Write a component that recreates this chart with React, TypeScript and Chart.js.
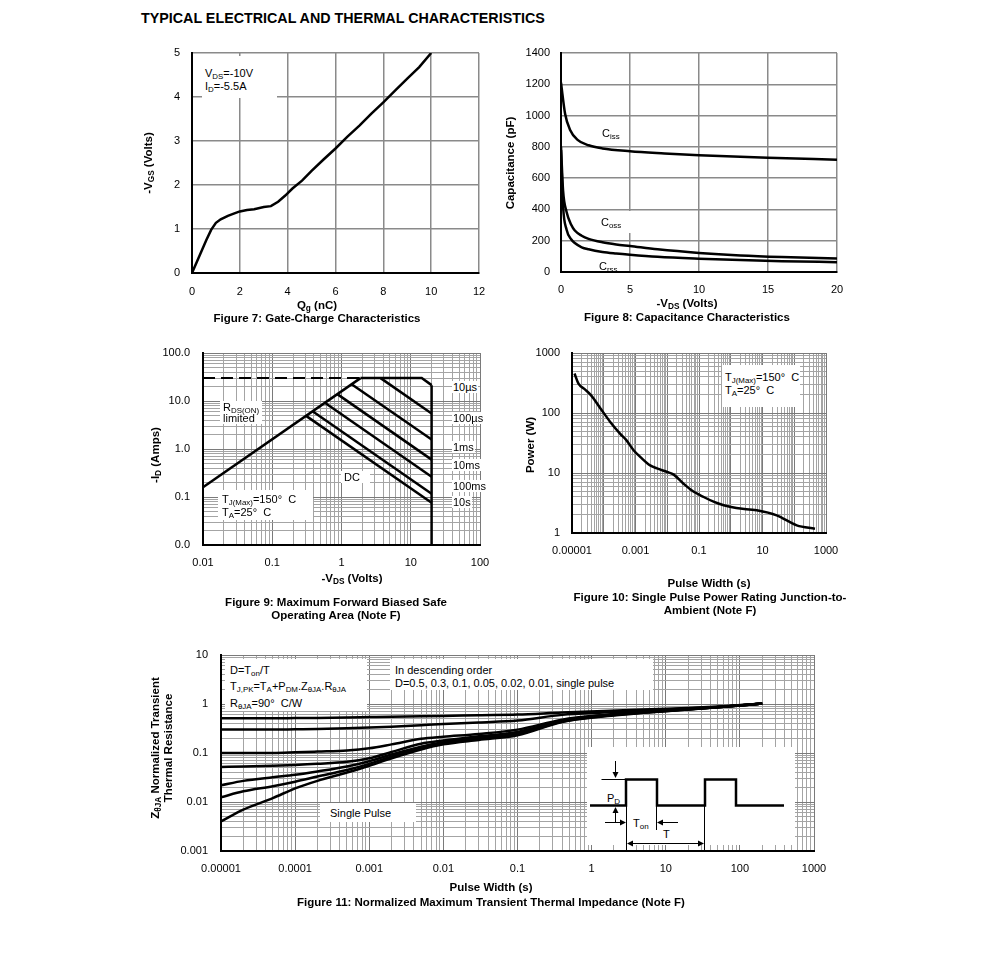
import React, { useEffect, useRef } from 'react';
import { Chart, registerables } from 'chart.js';

Chart.register(...registerables);

const FONT = '"Liberation Sans", Arial, Helvetica, sans-serif';

// ---------------- Figure 7: Gate charge ----------------
const fig7Charge = [0, 0.2, 0.4, 0.6, 0.8, 1.0, 1.2, 1.5, 1.8, 2.0, 2.3, 2.6, 3.0, 3.3, 3.6, 3.9, 4.2, 4.6, 5.0, 5.5, 6.0, 6.5, 7.0, 7.5, 8.0, 8.5, 9.0, 9.5, 10.0];
const fig7Vgs = [0, 0.25, 0.5, 0.75, 0.98, 1.14, 1.22, 1.3, 1.36, 1.4, 1.43, 1.45, 1.5, 1.52, 1.62, 1.76, 1.92, 2.1, 2.32, 2.58, 2.83, 3.1, 3.35, 3.62, 3.88, 4.15, 4.42, 4.68, 5.0];
const fig7XTicks = [0, 2, 4, 6, 8, 10, 12];
const fig7XLabels = ['0', '2', '4', '6', '8', '10', '12'];
const fig7YTicks = [0, 1, 2, 3, 4, 5];
const fig7YLabels = ['0', '1', '2', '3', '4', '5'];

// ---------------- Figure 8: Capacitance ----------------
const fig8CissV = [0, 0.3, 0.65, 1.2, 2, 3, 5, 7.5, 10, 15, 20];
const fig8Ciss = [1210, 1010, 910, 845, 810, 790, 772, 758, 746, 730, 718];
const fig8CossV = [0, 0.15, 0.4, 0.75, 1, 1.5, 2, 3, 4, 5, 7, 10, 13, 16, 20];
const fig8Coss = [800, 520, 385, 300, 265, 232, 212, 190, 176, 166, 145, 122, 106, 96, 87];
const fig8CrssV = [0, 0.15, 0.4, 0.75, 1, 1.5, 2, 3, 4, 5, 7, 10, 13, 16, 20];
const fig8Crss = [780, 420, 272, 208, 185, 158, 145, 128, 118, 110, 97, 85, 76, 69, 63];
const fig8XTicks = [0, 5, 10, 15, 20];
const fig8XLabels = ['0', '5', '10', '15', '20'];
const fig8YTicks = [0, 200, 400, 600, 800, 1000, 1200, 1400];
const fig8YLabels = ['0', '200', '400', '600', '800', '1000', '1200', '1400'];

// ---------------- Figure 9: Safe operating area ----------------
const fig9RdsV = [0.01, 1.88];
const fig9RdsI = [0.16, 30];
const fig9LimitV = [0.01, 1.88];
const fig9LimitI = [30, 30];
const fig9Us10V = [1.88, 14.4, 20];
const fig9Us10I = [30, 30, 21.4];
const fig9VmaxV = [20, 20];
const fig9VmaxI = [21.4, 0.01];
const fig9Us100V = [3.67, 20];
const fig9Us100I = [30, 5.5];
const fig9Ms1V = [1.4, 20];
const fig9Ms1I = [22.4, 1.58];
const fig9Ms10V = [0.87, 20];
const fig9Ms10I = [13.9, 0.6];
const fig9Ms100V = [0.575, 20];
const fig9Ms100I = [9.2, 0.265];
const fig9S10V = [0.382, 20];
const fig9S10I = [6.1, 0.117];
const fig9DcV = [0.308, 20];
const fig9DcI = [4.9, 0.076];
const fig9XDecades = [0.01, 0.1, 1, 10, 100];
const fig9XLabels = ['0.01', '0.1', '1', '10', '100'];
const fig9YDecades = [0.01, 0.1, 1, 10, 100];
const fig9YLabels = ['0.0', '0.1', '1.0', '10.0', '100.0'];

// ---------------- Figure 10: Single pulse power ----------------
const fig10T = [1.2e-5, 1.6e-5, 2.5e-5, 4e-5, 8e-5, 1.6e-4, 3.3e-4, 5e-4, 8.7e-4, 1.5e-3, 2.9e-3, 5e-3, 1e-2, 1.6e-2, 3.2e-2, 6e-2, 0.14, 0.3, 0.6, 1.5, 6.6, 28, 120, 450];
const fig10P = [454, 309, 250, 197, 118, 71, 45, 36, 24, 18, 13.4, 11.8, 10.4, 9.4, 6.7, 5.1, 3.98, 3.3, 2.9, 2.6, 2.39, 1.97, 1.34, 1.18];
const fig10XDecades = [1e-5, 1e-4, 1e-3, 1e-2, 1e-1, 1, 10, 100, 1000];
const fig10XLabels = ['0.00001', '', '0.001', '', '0.1', '', '10', '', '1000'];
const fig10YDecades = [1, 10, 100, 1000];
const fig10YLabels = ['1', '10', '100', '1000'];

// ---------------- Figure 11: Transient thermal impedance ----------------
const fig11T = [1e-5, 2e-5, 5e-5, 1e-4, 2e-4, 5e-4, 1e-3, 2e-3, 5e-3, 1e-2, 3e-2, 0.1, 0.4, 1.5, 5, 20, 60, 200];
const fig11D05 = [0.51, 0.51, 0.51, 0.515, 0.52, 0.53, 0.54, 0.55, 0.56, 0.57, 0.59, 0.61, 0.67, 0.72, 0.77, 0.83, 0.9, 1.02];
const fig11D03 = [0.3, 0.3, 0.3, 0.305, 0.31, 0.32, 0.33, 0.345, 0.37, 0.39, 0.42, 0.46, 0.6, 0.67, 0.73, 0.81, 0.89, 1.02];
const fig11D01 = [0.1, 0.1, 0.1, 0.103, 0.107, 0.113, 0.125, 0.15, 0.195, 0.215, 0.245, 0.3, 0.48, 0.6, 0.69, 0.79, 0.88, 1.02];
const fig11D005 = [0.052, 0.053, 0.055, 0.057, 0.06, 0.066, 0.078, 0.105, 0.155, 0.18, 0.22, 0.27, 0.46, 0.59, 0.68, 0.78, 0.88, 1.02];
const fig11D002 = [0.022, 0.027, 0.032, 0.036, 0.042, 0.053, 0.068, 0.093, 0.135, 0.165, 0.205, 0.25, 0.45, 0.58, 0.67, 0.78, 0.88, 1.02];
const fig11D001 = [0.0125, 0.0165, 0.021, 0.026, 0.033, 0.045, 0.06, 0.085, 0.125, 0.155, 0.195, 0.24, 0.44, 0.57, 0.67, 0.77, 0.88, 1.02];
const fig11Single = [0.004, 0.007, 0.012, 0.019, 0.027, 0.04, 0.055, 0.078, 0.118, 0.15, 0.185, 0.23, 0.43, 0.56, 0.66, 0.77, 0.88, 1.02];
const fig11XDecades = [1e-5, 1e-4, 1e-3, 1e-2, 1e-1, 1, 10, 100, 1000];
const fig11XLabels = ['0.00001', '0.0001', '0.001', '0.01', '0.1', '1', '10', '100', '1000'];
const fig11YDecades = [0.001, 0.01, 0.1, 1, 10];
const fig11YLabels = ['0.001', '0.01', '0.1', '1', '10'];

// ---------------- layout ----------------
type Geo = { L: number; T: number; R: number; B: number };
const YW = 60, PT = 24, PR = 30, XH = 30;
const G7: Geo = { L: 192, T: 53, R: 479, B: 273 };
const G8: Geo = { L: 561, T: 53, R: 837, B: 272 };
const G9: Geo = { L: 203, T: 353, R: 480, B: 545 };
const G10: Geo = { L: 572, T: 353, R: 826, B: 533 };
const G11: Geo = { L: 221, T: 655, R: 814, B: 851 };

function canvasBox(g: Geo) {
  return { left: g.L - YW, top: g.T - PT, width: YW + (g.R - g.L) + PR, height: PT + (g.B - g.T) + XH };
}

const isDecade = (v: number) => Math.abs(Math.log10(v) - Math.round(Math.log10(v))) < 1e-6;

function fitFn(isY: boolean) {
  return (s: any) => {
    if (isY) s.width = YW;
    else s.height = XH;
  };
}

function linAxis(vals: number[], labels: string[], pad: number, isY: boolean) {
  return {
    type: 'linear',
    min: vals[0],
    max: vals[vals.length - 1],
    afterBuildTicks: (s: any) => {
      s.ticks = vals.map((v) => ({ value: v }));
    },
    afterFit: fitFn(isY),
    ticks: {
      padding: pad,
      autoSkip: false,
      maxRotation: 0,
      minRotation: 0,
      color: '#000',
      font: { family: FONT, size: 11 },
      callback: (v: number) => {
        const i = vals.findIndex((t) => Math.abs(t - v) < 1e-9);
        return i >= 0 ? labels[i] : '';
      },
    },
    grid: { color: '#8a8a8a', lineWidth: 1.5, drawTicks: false },
    border: { display: true, color: '#000', width: 2 },
  };
}

function logAxis(decades: number[], labels: string[], pad: number, isY: boolean) {
  const all: number[] = [];
  for (let i = 0; i < decades.length - 1; i++) {
    for (let k = 1; k <= 9; k++) all.push(decades[i] * k);
  }
  all.push(decades[decades.length - 1]);
  return {
    type: 'logarithmic',
    min: decades[0],
    max: decades[decades.length - 1],
    afterBuildTicks: (s: any) => {
      s.ticks = all.map((v) => ({ value: v }));
    },
    afterFit: fitFn(isY),
    ticks: {
      padding: pad,
      autoSkip: false,
      maxRotation: 0,
      minRotation: 0,
      color: '#000',
      font: { family: FONT, size: 11 },
      callback: (v: number) => {
        const i = decades.findIndex((d) => Math.abs(d - v) / d < 1e-6);
        return i >= 0 ? labels[i] : '';
      },
    },
    grid: {
      color: (c: any) => (c.tick && isDecade(c.tick.value) ? '#7a7a7a' : '#a4a4a4'),
      lineWidth: 1,
      drawTicks: false,
    },
    border: { display: true, color: '#000', width: 2 },
  };
}

function line(xs: number[], ys: number[], extra: any = {}) {
  return {
    data: xs.map((x, i) => ({ x, y: ys[i] })),
    borderColor: '#000',
    borderWidth: 2.5,
    pointRadius: 0,
    fill: false,
    tension: 0,
    ...extra,
  };
}

function baseConfig(datasets: any[], x: any, y: any) {
  return {
    type: 'line',
    data: { datasets },
    options: {
      responsive: false,
      animation: false,
      devicePixelRatio: 1,
      events: [],
      layout: { padding: { left: 0, top: PT, right: PR, bottom: 0 } },
      plugins: { legend: { display: false }, tooltip: { enabled: false } },
      scales: { x, y },
    },
  };
}

const smooth = { cubicInterpolationMode: 'monotone' };

const fig7Config = () =>
  baseConfig([line(fig7Charge, fig7Vgs)], linAxis(fig7XTicks, fig7XLabels, 12, false), linAxis(fig7YTicks, fig7YLabels, 12, true));

const fig8Config = () =>
  baseConfig(
    [line(fig8CissV, fig8Ciss, smooth), line(fig8CossV, fig8Coss, smooth), line(fig8CrssV, fig8Crss, smooth)],
    linAxis(fig8XTicks, fig8XLabels, 11, false),
    linAxis(fig8YTicks, fig8YLabels, 11, true)
  );

const fig9Config = () =>
  baseConfig(
    [
      line(fig9LimitV, fig9LimitI, { borderDash: [12, 6], borderWidth: 2 }),
      line(fig9RdsV, fig9RdsI),
      line(fig9Us10V, fig9Us10I),
      line(fig9VmaxV, fig9VmaxI),
      line(fig9Us100V, fig9Us100I),
      line(fig9Ms1V, fig9Ms1I),
      line(fig9Ms10V, fig9Ms10I),
      line(fig9Ms100V, fig9Ms100I),
      line(fig9S10V, fig9S10I),
      line(fig9DcV, fig9DcI),
    ],
    logAxis(fig9XDecades, fig9XLabels, 11, false),
    logAxis(fig9YDecades, fig9YLabels, 13, true)
  );

const fig10Config = () =>
  baseConfig([line(fig10T, fig10P, smooth)], logAxis(fig10XDecades, fig10XLabels, 11, false), logAxis(fig10YDecades, fig10YLabels, 12, true));

const fig11Config = () =>
  baseConfig(
    [fig11D05, fig11D03, fig11D01, fig11D005, fig11D002, fig11D001, fig11Single].map((ys) => line(fig11T, ys, smooth)),
    logAxis(fig11XDecades, fig11XLabels, 11, false),
    logAxis(fig11YDecades, fig11YLabels, 13, true)
  );

function Plot({ g, config }: { g: Geo; config: () => any }) {
  const ref = useRef<HTMLCanvasElement>(null);
  useEffect(() => {
    const chart = new Chart(ref.current as HTMLCanvasElement, config() as any);
    return () => chart.destroy();
  }, []);
  const b = canvasBox(g);
  return (
    <canvas
      ref={ref}
      width={b.width}
      height={b.height}
      style={{ position: 'absolute', left: b.left, top: b.top, width: b.width, height: b.height }}
    />
  );
}

// ---------------- text helpers ----------------
const sub = (t: string) => <span style={{ fontSize: '0.72em', position: 'relative', top: '0.3em' }}>{t}</span>;

function Txt({ x, y, bold, size = 11, align = 'left', bg, h = 14, children }: any) {
  const style: any = {
    position: 'absolute',
    top: y - h / 2,
    height: h,
    lineHeight: h + 'px',
    fontSize: size,
    fontWeight: bold ? 'bold' : 'normal',
    whiteSpace: 'pre',
    fontFamily: FONT,
    color: '#000',
  };
  if (align === 'center') {
    style.left = x - 300;
    style.width = 600;
    style.textAlign = 'center';
  } else {
    style.left = x;
  }
  if (bg) {
    style.background = '#fff';
    style.padding = '0 1px';
  }
  return <div style={style}>{children}</div>;
}

function VTxt({ x, y, size = 11.5, children }: any) {
  return (
    <div
      style={{
        position: 'absolute',
        left: x - 150,
        top: y - 8,
        width: 300,
        height: 16,
        lineHeight: '16px',
        textAlign: 'center',
        transform: 'rotate(-90deg)',
        fontWeight: 'bold',
        fontSize: size,
        whiteSpace: 'pre',
        fontFamily: FONT,
        color: '#000',
      }}
    >
      {children}
    </div>
  );
}

function Box({ x, y, w, h }: any) {
  return <div style={{ position: 'absolute', left: x, top: y, width: w, height: h, background: '#fff' }} />;
}

function PulseInset() {
  const ox = 587, oy = 747;
  return (
    <svg style={{ position: 'absolute', left: ox, top: oy }} width={210} height={104}>
      <rect x={0} y={0} width={208} height={98} fill="#fff" />
      <polyline
        points="3,58.5 39,58.5 39,32.5 70,32.5 70,58.5 118,58.5 118,32.5 149,32.5 149,58.5 197,58.5"
        fill="none"
        stroke="#000"
        strokeWidth={2.5}
      />
      <g stroke="#000" strokeWidth={1} fill="none">
        <line x1={14.5} y1={32.5} x2={39} y2={32.5} />
        <line x1={28.5} y1={14} x2={28.5} y2={26} />
        <line x1={28.5} y1={66} x2={28.5} y2={75} />
        <line x1={39.5} y1={58.5} x2={39.5} y2={104} />
        <line x1={69.5} y1={58.5} x2={69.5} y2={83} />
        <line x1={117.5} y1={58.5} x2={117.5} y2={104} />
        <line x1={18} y1={75.5} x2={34} y2={75.5} />
        <line x1={91} y1={75.5} x2={75} y2={75.5} />
        <line x1={45} y1={96.5} x2={112} y2={96.5} />
      </g>
      <g fill="#000">
        <polygon points="25.5,25 31.5,25 28.5,31" />
        <polygon points="25.5,66 31.5,66 28.5,60" />
        <polygon points="33,72.5 33,78.5 39,75.5" />
        <polygon points="76,72.5 76,78.5 70,75.5" />
        <polygon points="40,96.5 46,93.5 46,99.5" />
        <polygon points="117,96.5 111,93.5 111,99.5" />
      </g>
      <text x={20} y={55} fontSize={11} fontFamily={FONT}>
        P<tspan fontSize={8} dy={2}>D</tspan>
      </text>
      <text x={46} y={80} fontSize={11} fontFamily={FONT}>
        T<tspan fontSize={8} dy={2}>on</tspan>
      </text>
      <text x={76} y={91} fontSize={11} fontFamily={FONT}>
        T
      </text>
    </svg>
  );
}

export default function App() {
  return (
    <div style={{ position: 'absolute', left: 0, top: 0, width: 991, height: 975, background: '#fff', fontFamily: FONT, color: '#000' }}>
      <Txt x={141} y={18} bold size={14.3} h={16}>TYPICAL ELECTRICAL AND THERMAL CHARACTERISTICS</Txt>

      {/* Figure 7 */}
      <Plot g={G7} config={fig7Config} />
      <Box x={202} y={56} w={75} h={42} />
      <Txt x={205} y={73}>V{sub('DS')}=-10V</Txt>
      <Txt x={205} y={86}>I{sub('D')}=-5.5A</Txt>
      <VTxt x={148} y={163}>-V{sub('GS')} (Volts)</VTxt>
      <Txt x={317} y={305} bold size={11.5} align="center">Q{sub('g')} (nC)</Txt>
      <Txt x={317} y={318} bold size={11.5} align="center">Figure 7: Gate-Charge Characteristics</Txt>

      {/* Figure 8 */}
      <Plot g={G8} config={fig8Config} />
      <Txt x={602} y={133}>C{sub('iss')}</Txt>
      <Box x={598} y={211} w={35} h={22} />
      <Txt x={601} y={222}>C{sub('oss')}</Txt>
      <Txt x={599} y={266} h={12}>C{sub('rss')}</Txt>
      <VTxt x={510} y={163}>Capacitance (pF)</VTxt>
      <Txt x={687} y={303} bold size={11.5} align="center">-V{sub('DS')} (Volts)</Txt>
      <Txt x={687} y={317} bold size={11.5} align="center">Figure 8: Capacitance Characteristics</Txt>

      {/* Figure 9 */}
      <Plot g={G9} config={fig9Config} />
      <Box x={220} y={401} w={42} h={23} />
      <Txt x={223} y={407}>R{sub('DS(ON)')}</Txt>
      <Txt x={223} y={418}>limited</Txt>
      <Box x={341} y={471} w={29} h={12} />
      <Txt x={344} y={477}>DC</Txt>
      <Box x={218} y={490} w={95} h={30} />
      <Txt x={222} y={499}>T{sub('J(Max)')}=150°  C</Txt>
      <Txt x={222} y={512}>T{sub('A')}=25°  C</Txt>
      <Txt x={452} y={387} bg h={12}>10µs</Txt>
      <Txt x={452} y={418} bg h={12}>100µs</Txt>
      <Txt x={452} y={447} bg h={12}>1ms</Txt>
      <Txt x={452} y={465} bg h={12}>10ms</Txt>
      <Txt x={452} y={486} bg h={12}>100ms</Txt>
      <Txt x={452} y={502} bg h={12}>10s</Txt>
      <VTxt x={155} y={455}>-I{sub('D')} (Amps)</VTxt>
      <Txt x={352} y={578} bold size={11.5} align="center">-V{sub('DS')} (Volts)</Txt>
      <Txt x={336} y={602} bold size={11.5} align="center">Figure 9: Maximum Forward Biased Safe</Txt>
      <Txt x={336} y={615} bold size={11.5} align="center">Operating Area (Note F)</Txt>

      {/* Figure 10 */}
      <Plot g={G10} config={fig10Config} />
      <Box x={722} y={365} w={78} h={42} />
      <Txt x={725} y={377}>T{sub('J(Max)')}=150°  C</Txt>
      <Txt x={725} y={390}>T{sub('A')}=25°  C</Txt>
      <VTxt x={530} y={445}>Power (W)</VTxt>
      <Txt x={709} y={583} bold size={11.5} align="center">Pulse Width (s)</Txt>
      <Txt x={710} y={597} bold size={11.5} align="center">Figure 10: Single Pulse Power Rating Junction-to-</Txt>
      <Txt x={710} y={610} bold size={11.5} align="center">Ambient (Note F)</Txt>

      {/* Figure 11 */}
      <Plot g={G11} config={fig11Config} />
      <Box x={225} y={659} w={142} h={52} />
      <Txt x={230} y={670}>D=T{sub('on')}/T</Txt>
      <Txt x={230} y={686}>T{sub('J,PK')}=T{sub('A')}+P{sub('DM')}.Z{sub('θJA')}.R{sub('θJA')}</Txt>
      <Txt x={230} y={703}>R{sub('θJA')}=90°  C/W</Txt>
      <Box x={390} y={659} w={263} h={31} />
      <Txt x={395} y={670}>In descending order</Txt>
      <Txt x={395} y={683}>D=0.5, 0.3, 0.1, 0.05, 0.02, 0.01, single pulse</Txt>
      <Box x={320} y={803} w={96} h={19} />
      <Txt x={330} y={813}>Single Pulse</Txt>
      <PulseInset />
      <VTxt x={155} y={748}>Z{sub('θJA')} Normalized Transient</VTxt>
      <VTxt x={168} y={748}>Thermal Resistance</VTxt>
      <Txt x={491} y={887} bold size={11.5} align="center">Pulse Width (s)</Txt>
      <Txt x={491} y={902} bold size={11.5} align="center">Figure 11: Normalized Maximum Transient Thermal Impedance (Note F)</Txt>
    </div>
  );
}
